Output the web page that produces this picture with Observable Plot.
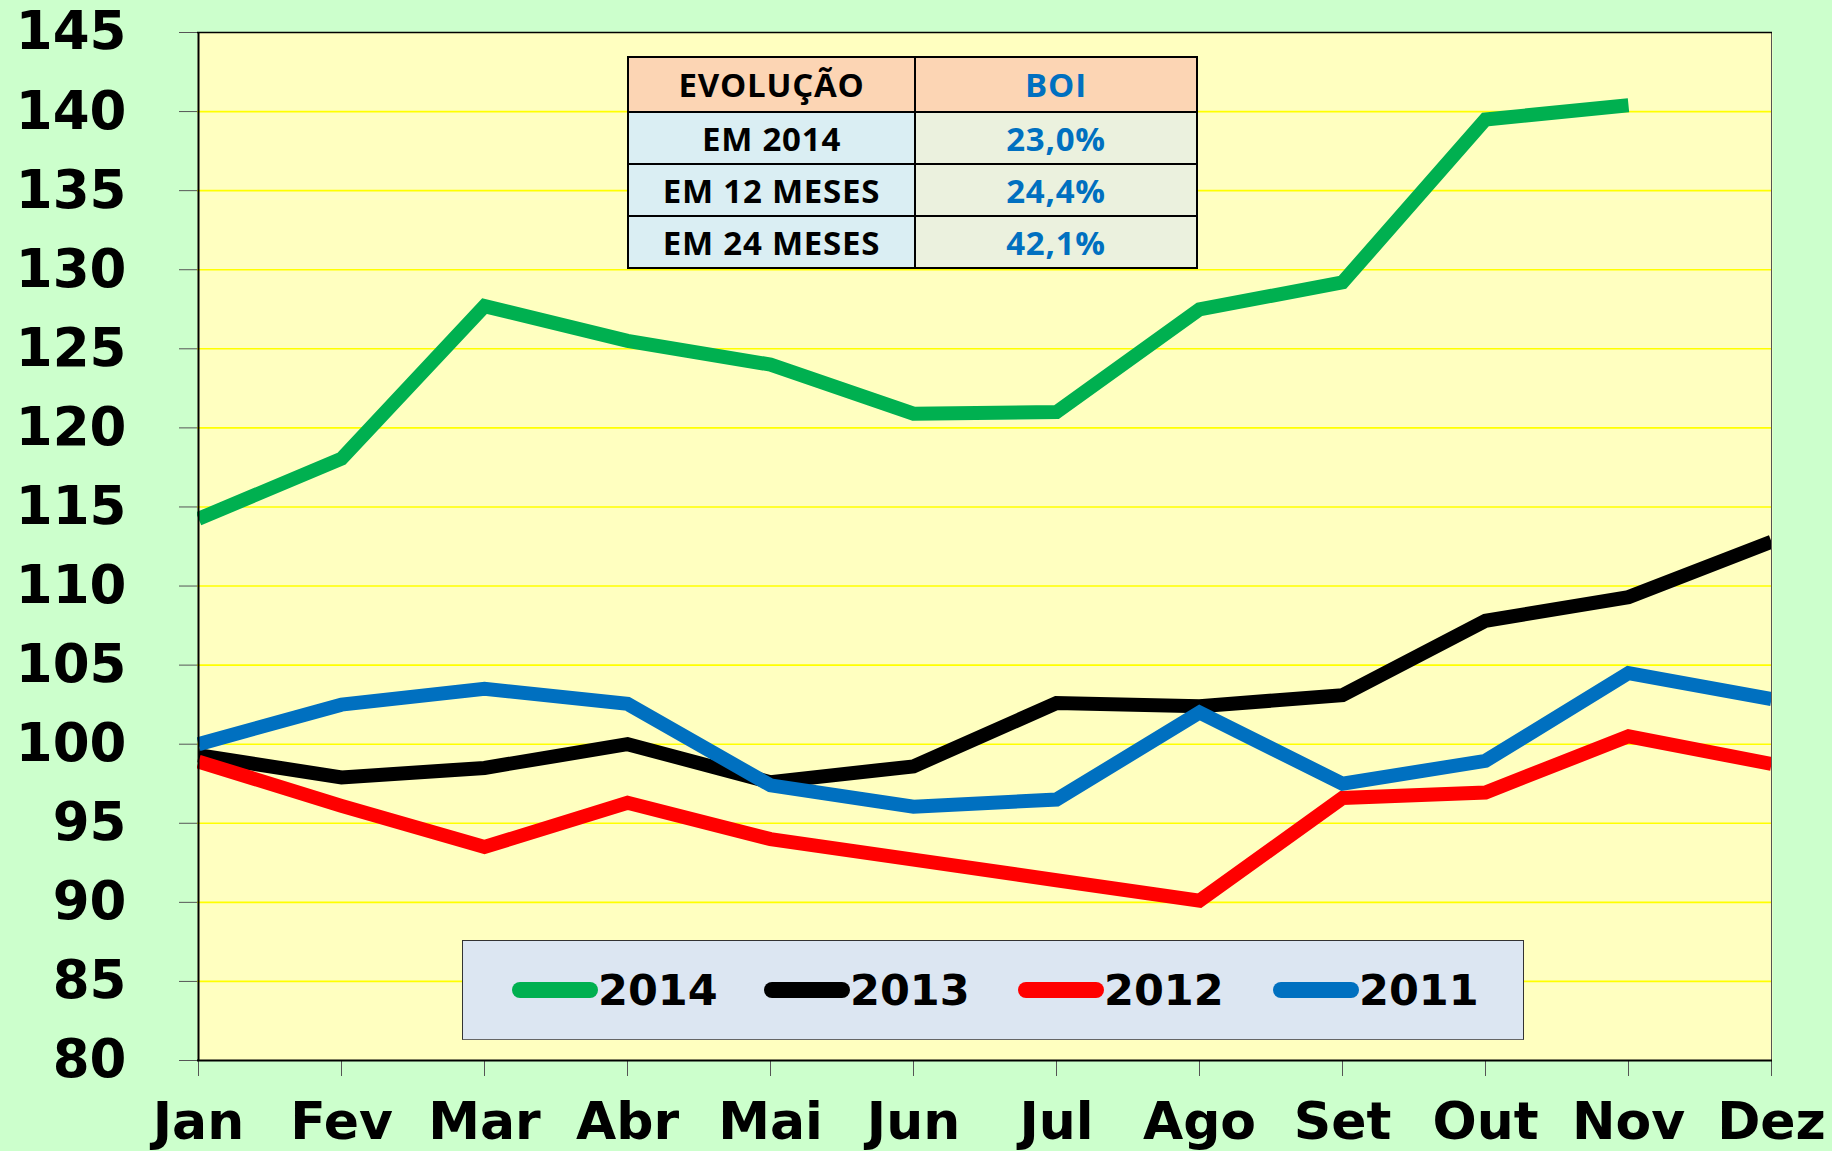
<!DOCTYPE html>
<html>
<head>
<meta charset="utf-8">
<script src="https://cdn.jsdelivr.net/npm/d3@7"></script>
<script src="https://cdn.jsdelivr.net/npm/@observablehq/plot@0.6"></script>
<style>
  html, body { margin: 0; padding: 0; background: #CCFFCC; }
  #wrap { position: relative; width: 1832px; height: 1151px; overflow: hidden; background: #CCFFCC; }
  #chart { position: absolute; left: 0; top: 0; }
  #tbl { position: absolute; left: 627px; top: 56px; border-collapse: collapse; font-family: "Open Sans", sans-serif; font-weight: 700; }
  #tbl td { border: 2px solid #000; text-align: center; padding: 0; font-size: 33px; letter-spacing: 0.8px; line-height: 1; }
  #legend { position: absolute; left: 462px; top: 940px; width: 1060px; height: 98px; background: #DCE6F2; border: 1.5px solid #333; border-bottom-color: #666; }
  .item { position: absolute; top: 0; height: 98px; display: flex; align-items: center; }
  .sw { width: 86px; height: 16px; border-radius: 8px; }
  .lt { font-family: "DejaVu Sans", sans-serif; font-weight: bold; font-size: 43px; color: #000; margin-left: 0px; }
</style>
</head>
<body>
<div id="wrap">
  <div id="chart"></div>
  <table id="tbl"></table>
  <div id="legend"></div>
</div>
<script>
// ---- Data ----
const months = ["Jan","Fev","Mar","Abr","Mai","Jun","Jul","Ago","Set","Out","Nov","Dez"];
const seriesNames = ["2014","2013","2012","2011"];
const seriesColors = ["#00B050","#000000","#FF0000","#0070C0"];
const values2014 = [114.25,118.05,127.7,125.5,124.0,120.9,121.0,127.5,129.2,139.5,140.4,null];
const values2013 = [99.3,97.9,98.5,100.0,97.6,98.6,102.6,102.4,103.1,107.8,109.3,112.8];
const values2012 = [98.9,96.1,93.5,96.3,94.0,92.7,91.4,90.1,96.6,96.95,100.5,98.75];
const values2011 = [100.0,102.5,103.5,102.55,97.4,96.05,96.5,102.0,97.5,98.95,104.5,102.85];
const yTicks = [80,85,90,95,100,105,110,115,120,125,130,135,140,145];
const tableHeader = ["EVOLUÇÃO","BOI"];
const tableLabels = ["EM 2014","EM 12 MESES","EM 24 MESES"];
const tableValues = ["23,0%","24,4%","42,1%"];

// ---- Build tidy table ----
const allValues = [values2014, values2013, values2012, values2011];
const data = [];
seriesNames.forEach((s, i) => {
  months.forEach((m, j) => {
    const v = allValues[i][j];
    if (v != null) data.push({series: s, month: m, value: v});
  });
});

const W = 1832, H = 1151;
const chart = Plot.plot({
  width: W,
  height: H,
  marginLeft: 197,
  marginRight: 60,
  marginTop: 32,
  marginBottom: 91,
  style: {background: "transparent", fontFamily: "DejaVu Sans", overflow: "visible"},
  x: {type: "point", domain: months, padding: 0},
  y: {domain: [80, 145]},
  color: {domain: seriesNames, range: seriesColors},
  marks: [
    Plot.frame({fill: "#FFFFC0"}),
    Plot.ruleY(yTicks.filter(d => d > 80 && d < 145), {stroke: "#FFFF00", strokeWidth: 1.6}),
    Plot.line(data, {
      x: "month", y: "value", z: "series", stroke: "series",
      strokeWidth: 14, strokeLinejoin: "miter", strokeMiterlimit: 2, strokeLinecap: "butt", clip: "frame"
    }),
    Plot.ruleX([months[months.length - 1]], {stroke: "#555", strokeWidth: 1}),
    Plot.ruleY([145], {stroke: "#000", strokeWidth: 1.5}),
    Plot.axisY({
      ticks: yTicks, tickSize: 18, tickPadding: 53, stroke: "#555",
      fontSize: 53, fontWeight: "bold", fill: "#000", label: null, tickFormat: d => String(d)
    }),
    Plot.axisX({
      tickSize: 16, tickPadding: 26, stroke: "#555",
      fontSize: 52, fontWeight: "bold", fill: "#000", label: null
    }),
    Plot.ruleX([months[0]], {stroke: "#000", strokeWidth: 2}),
    Plot.ruleY([80], {stroke: "#000", strokeWidth: 2})
  ]
});
document.getElementById("chart").appendChild(chart);

// ---- Table overlay ----
const tbl = document.getElementById("tbl");
const hdr = document.createElement("tr");
hdr.style.height = "55px";
tableHeader.forEach((t, i) => {
  const td = document.createElement("td");
  td.textContent = t;
  td.style.background = "#FCD5B4";
  td.style.color = i === 0 ? "#000" : "#0070C0";
  td.style.width = i === 0 ? "285px" : "280px";
  hdr.appendChild(td);
});
tbl.appendChild(hdr);
tableLabels.forEach((lab, i) => {
  const tr = document.createElement("tr");
  tr.style.height = "52px";
  const a = document.createElement("td");
  a.textContent = lab; a.style.background = "#DAEEF3"; a.style.color = "#000";
  const b = document.createElement("td");
  b.textContent = tableValues[i]; b.style.background = "#EBF1DE"; b.style.color = "#0070C0";
  tr.appendChild(a); tr.appendChild(b);
  tbl.appendChild(tr);
});

// ---- Legend overlay ----
const legend = document.getElementById("legend");
const itemLeft = [49, 301, 555, 810];
seriesNames.forEach((s, i) => {
  const it = document.createElement("div");
  it.className = "item";
  it.style.left = itemLeft[i] + "px";
  const sw = document.createElement("div");
  sw.className = "sw"; sw.style.background = seriesColors[i];
  const tx = document.createElement("span");
  tx.className = "lt"; tx.textContent = s;
  it.appendChild(sw); it.appendChild(tx);
  legend.appendChild(it);
});
</script>
</body>
</html>
